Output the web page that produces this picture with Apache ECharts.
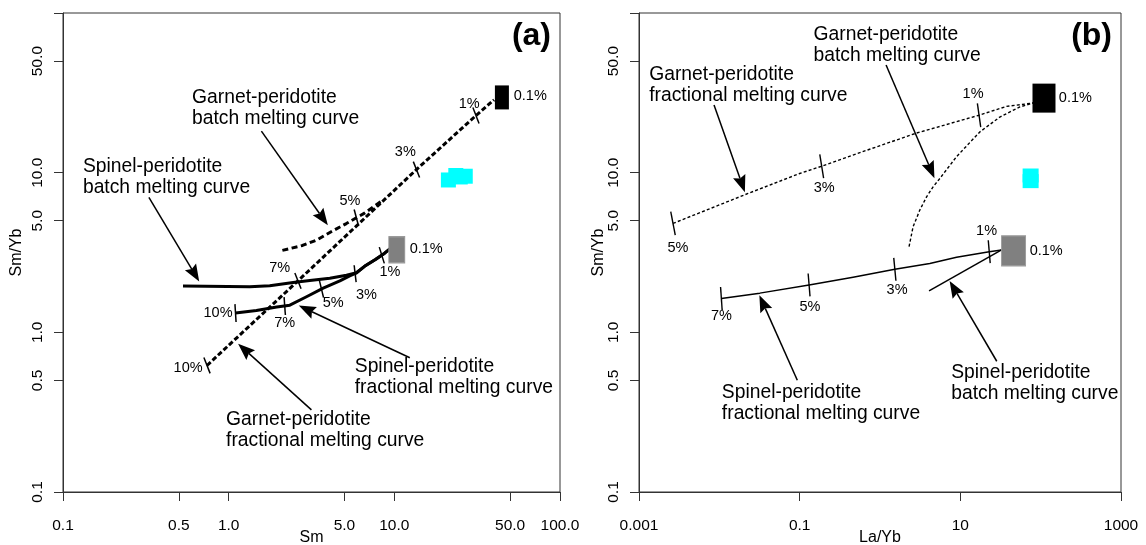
<!DOCTYPE html>
<html>
<head>
<meta charset="utf-8">
<script src="https://cdn.jsdelivr.net/npm/echarts@6/dist/echarts.min.js"></script>
<style>
  html, body { margin: 0; padding: 0; background: #ffffff; }
  #chart { width: 1146px; height: 545px; }
</style>
</head>
<body>
<div id="chart"></div>
<script>
// ---- axis ticks -------------------------------------------------------
const xTicksA = [0.1, 0.5, 1, 5, 10, 50, 100];
const xTickTextA = ['0.1', '0.5', '1.0', '5.0', '10.0', '50.0', '100.0'];
const xTicksB = [0.001, 0.1, 10, 1000];
const xTickTextB = ['0.001', '0.1', '10', '1000'];
const yTicks = [0.1, 0.5, 1, 5, 10, 50, 100];
const yLabelTicks = [0.1, 0.5, 1, 5, 10, 50];
const yTickText = ['0.1', '0.5', '1.0', '5.0', '10.0', '50.0'];

// ---- (a) Sm vs Sm/Yb ---------------------------------------------------
// garnet-peridotite fractional melting
const gfA_x = [0.74, 2.62, 13.6, 31.1, 40.0];
const gfA_y = [0.62, 2.10, 10.46, 22.8, 28.6];
// garnet-peridotite batch melting
const gbA_x = [2.11, 2.79, 3.41, 4.18, 5.13, 5.90, 6.61, 8.51];
const gbA_y = [3.26, 3.50, 3.79, 4.28, 4.80, 5.22, 5.58, 6.73];
// spinel-peridotite batch melting
const sbA_x = [0.53, 1.34, 1.77, 2.45, 3.09, 4.08, 5.14, 5.91, 6.61, 7.69, 8.74, 9.40];
const sbA_y = [1.95, 1.93, 1.96, 2.05, 2.11, 2.18, 2.28, 2.36, 2.59, 2.86, 3.13, 3.33];
// spinel-peridotite fractional melting
const sfA_x = [1.10, 1.47, 1.95, 2.34, 2.95, 3.72, 4.69, 5.38, 5.91, 6.61, 7.69, 8.74, 9.40];
const sfA_y = [1.32, 1.37, 1.44, 1.48, 1.67, 1.89, 2.10, 2.26, 2.36, 2.59, 2.86, 3.13, 3.33];

// melting-degree marks on the curves
const gfA_marks = [[0.74, 0.62], [2.62, 2.10], [13.6, 10.46], [31.1, 22.8]];
const gbA_marks = [[5.90, 5.22]];
const sbA_marks = [[5.80, 2.33], [8.40, 3.04]];
const sfA_marks = [[1.10, 1.32], [2.18, 1.46], [3.63, 1.87]];

// melting-degree labels: [text, x, y]
const pctA = [
  ['10%', 0.569, 0.596], ['7%', 2.035, 2.52], ['5%', 5.39, 6.65], ['3%', 11.65, 13.4], ['1%', 28.3, 27.1],
  ['3%', 6.79, 1.71], ['1%', 9.40, 2.40],
  ['10%', 0.863, 1.316], ['7%', 2.18, 1.14], ['5%', 4.27, 1.52]
];
const srcLabelA = [['0.1%', 52.2, 30.1], ['0.1%', 12.29, 3.31]];
const notesA = [
  ['Garnet-peridotite\nbatch melting curve', 0.597, 25.5],
  ['Spinel-peridotite\nbatch melting curve', 0.131, 9.38],
  ['Spinel-peridotite\nfractional melting curve', 5.73, 0.524],
  ['Garnet-peridotite\nfractional melting curve', 0.958, 0.243]
];
const arrowsA = [
  [[1.576, 18.2], [3.97, 4.68]],
  [[0.330, 7.0], [0.664, 2.08]],
  [[12.4, 0.693], [2.65, 1.47]],
  [[3.16, 0.327], [1.14, 0.849]]
];
// source compositions and samples
const garnetSrcA = [[44.6, 29.6]];
const spinelSrcA = [[10.35, 3.29]];
const samplesA = [[21.2, 9.0], [23.5, 9.6], [26.8, 9.5], [25.0, 9.4]];

// ---- (b) La/Yb vs Sm/Yb ------------------------------------------------
const gfB_x = [0.00265, 0.0228, 0.100, 0.188, 0.679, 2.85, 17.1, 37.6, 80.7];
const gfB_y = [4.81, 7.41, 9.88, 10.98, 13.8, 17.7, 22.9, 26.0, 27.3];
const gbB_x = [2.30, 2.58, 3.13, 3.80, 4.58, 5.56, 8.97, 17.5, 31.0, 55.1, 80.7];
const gbB_y = [3.44, 4.58, 5.83, 7.06, 8.15, 9.20, 12.6, 18.0, 22.3, 25.8, 27.3];
const sfB_x = [0.0106, 0.0319, 0.131, 0.462, 1.53, 4.17, 8.97, 22.9, 32.6];
const sfB_y = [1.63, 1.76, 1.98, 2.21, 2.48, 2.70, 2.95, 3.20, 3.28];
const sbB_x = [4.08, 32.6];
const sbB_y = [1.82, 3.28];

const gfB_marks = [[0.00265, 4.81], [0.188, 10.98], [17.1, 22.9]];
const sfB_marks = [[0.0106, 1.63], [0.131, 1.98], [1.53, 2.48], [22.9, 3.20]];

const pctB = [
  ['5%', 0.00306, 3.36], ['3%', 0.202, 7.96], ['1%', 14.4, 31.3],
  ['7%', 0.0106, 1.27], ['5%', 0.134, 1.44], ['3%', 1.63, 1.84], ['1%', 21.2, 4.33]
];
const srcLabelB = [['0.1%', 166, 29.2], ['0.1%', 71.9, 3.24]];
const notesB = [
  ['Garnet-peridotite\nfractional melting curve', 0.00132, 35.5],
  ['Garnet-peridotite\nbatch melting curve', 0.1466, 62.5],
  ['Spinel-peridotite\nfractional melting curve', 0.0106, 0.362],
  ['Spinel-peridotite\nbatch melting curve', 7.59, 0.478]
];
const arrowsB = [
  [[0.00859, 26.5], [0.0208, 7.55]],
  [[1.19, 47.2], [4.76, 9.24]],
  [[0.0935, 0.501], [0.0315, 1.71]],
  [[28.4, 0.659], [7.36, 2.10]]
];
const garnetSrcB = [[110, 29.3]];
const spinelSrcB = [[46, 3.24]];
const samplesB = [[75, 9.6], [75, 8.85]];

// ---- helpers ----------------------------------------------------------
const FONT = '"Liberation Sans", Arial, Helvetica, sans-serif';
const INK = '#000000';
const AXIS = '#333333';

function zip(xs, ys) { return xs.map((x, i) => [x, ys[i]]); }

function tickText(v, ticks, texts) {
  for (let i = 0; i < ticks.length; i++) {
    if (Math.abs(v - ticks[i]) <= ticks[i] * 1e-6) return texts[i];
  }
  return '';
}

function segDist(p, a, b) {
  const vx = b[0] - a[0], vy = b[1] - a[1];
  const l2 = vx * vx + vy * vy || 1;
  let t = ((p[0] - a[0]) * vx + (p[1] - a[1]) * vy) / l2;
  t = Math.max(0, Math.min(1, t));
  const qx = a[0] + t * vx, qy = a[1] + t * vy;
  return Math.hypot(p[0] - qx, p[1] - qy);
}

function curve(xs, ys, idx, width, dash) {
  return {
    type: 'line', xAxisIndex: idx, yAxisIndex: idx, data: zip(xs, ys),
    symbol: 'none', silent: true, z: 2, animation: false,
    lineStyle: { color: '#000', width: width, type: dash || 'solid', cap: 'butt', join: 'round', opacity: 1 }
  };
}

// short cross-marks on a curve, leaning with the curve's local direction
function marks(points, xs, ys, idx, len, width) {
  return {
    type: 'custom', xAxisIndex: idx, yAxisIndex: idx, z: 4, silent: true,
    data: points,
    renderItem: function (params, api) {
      const p = api.coord([api.value(0), api.value(1)]);
      const pts = xs.map((x, i) => api.coord([x, ys[i]]));
      let best = 0, bd = Infinity;
      for (let i = 0; i < pts.length - 1; i++) {
        const d = segDist(p, pts[i], pts[i + 1]);
        if (d < bd) { bd = d; best = i; }
      }
      const a = pts[best], b = pts[best + 1];
      const phi = Math.atan2(b[1] - a[1], b[0] - a[0]) * 0.5;
      const ux = -Math.sin(phi), uy = Math.cos(phi), h = len / 2;
      return {
        type: 'line',
        shape: { x1: p[0] - ux * h, y1: p[1] - uy * h, x2: p[0] + ux * h, y2: p[1] + uy * h },
        style: { stroke: '#000', lineWidth: width }
      };
    }
  };
}

function arrows(list, idx) {
  return {
    type: 'custom', xAxisIndex: idx, yAxisIndex: idx, z: 6, silent: true,
    data: list.map(a => [a[0][0], a[0][1], a[1][0], a[1][1]]),
    encode: { x: [0, 2], y: [1, 3] },
    renderItem: function (params, api) {
      const p1 = api.coord([api.value(0), api.value(1)]);
      const p2 = api.coord([api.value(2), api.value(3)]);
      const dx = p2[0] - p1[0], dy = p2[1] - p1[1];
      const L = Math.hypot(dx, dy) || 1;
      const ux = dx / L, uy = dy / L, nx = -uy, ny = ux;
      const HL = 17, HW = 6.5, notch = 2.5;
      const bx = p2[0] - ux * HL, by = p2[1] - uy * HL;
      const mx = bx + ux * notch, my = by + uy * notch;
      return {
        type: 'group',
        children: [
          { type: 'line', shape: { x1: p1[0], y1: p1[1], x2: mx, y2: my },
            style: { stroke: '#000', lineWidth: 1.5 } },
          { type: 'polygon',
            shape: { points: [[p2[0], p2[1]], [bx + nx * HW, by + ny * HW], [mx, my], [bx - nx * HW, by - ny * HW]] },
            style: { fill: '#000' } }
        ]
      };
    }
  };
}

function blocks(points, idx, color, size, border) {
  return {
    type: 'scatter', xAxisIndex: idx, yAxisIndex: idx, data: points, z: 5, silent: true,
    symbol: 'rect', symbolSize: size,
    itemStyle: { color: color, opacity: 1, borderColor: border || color, borderWidth: border ? 1 : 0 },
    emphasis: { disabled: true }
  };
}

function texts(list, idx, label) {
  return {
    type: 'scatter', xAxisIndex: idx, yAxisIndex: idx, z: 7, silent: true,
    symbolSize: 1, itemStyle: { color: 'rgba(0,0,0,0)', opacity: 1 },
    emphasis: { disabled: true },
    data: list.map(t => ({ name: t[0], value: [t[1], t[2]] })),
    label: Object.assign({ show: true, formatter: '{b}', color: INK, opacity: 1, fontFamily: FONT }, label),
    labelLayout: { hideOverlap: false }
  };
}

function xAxis(idx, min, max, ticks, tickTexts, name) {
  return {
    type: 'log', logBase: 10, gridIndex: idx, min: min, max: max,
    name: name, nameLocation: 'middle', nameGap: 38, nameMoveOverlap: false,
    nameTextStyle: { fontSize: 16, color: INK, fontFamily: FONT },
    axisLine: { show: true, onZero: false, lineStyle: { color: AXIS, width: 1 } },
    axisTick: { show: true, length: 9, customValues: ticks, lineStyle: { color: AXIS, width: 1 } },
    axisLabel: { show: true, customValues: ticks, margin: 26, fontSize: 15.5, color: INK, fontFamily: FONT,
      formatter: v => tickText(v, ticks, tickTexts) },
    splitLine: { show: false }, minorTick: { show: false }, minorSplitLine: { show: false }
  };
}

function yAxis(idx, gap) {
  return {
    type: 'log', logBase: 10, gridIndex: idx, min: 0.1, max: 100,
    name: 'Sm/Yb', nameLocation: 'middle', nameGap: gap, nameMoveOverlap: false,
    nameTextStyle: { fontSize: 16, color: INK, fontFamily: FONT },
    axisLine: { show: true, onZero: false, lineStyle: { color: AXIS, width: 1 } },
    axisTick: { show: true, length: 9, customValues: yTicks, lineStyle: { color: AXIS, width: 1 } },
    axisLabel: { show: true, customValues: yLabelTicks, rotate: 90, margin: 17, fontSize: 15.5, color: INK,
      fontFamily: FONT, formatter: v => tickText(v, yLabelTicks, yTickText) },
    splitLine: { show: false }, minorTick: { show: false }, minorSplitLine: { show: false }
  };
}

const pctStyle = { position: 'inside', fontSize: 14.5, align: 'center', verticalAlign: 'middle' };
const srcStyle = { position: 'right', distance: 0, fontSize: 14.5, align: 'left', verticalAlign: 'middle' };
const noteStyle = { position: 'right', distance: 0, fontSize: 19.3, lineHeight: 21, align: 'left', verticalAlign: 'middle' };

const chart = echarts.init(document.getElementById('chart'), null, { renderer: 'canvas' });

chart.setOption({
  animation: false,
  backgroundColor: '#ffffff',
  textStyle: { fontFamily: FONT },
  grid: [
    { left: 63, top: 13, width: 497, height: 479, outerBoundsMode: 'none', containLabel: false,
      show: true, borderColor: AXIS, borderWidth: 1, backgroundColor: 'transparent' },
    { left: 639, top: 13, width: 482, height: 479, outerBoundsMode: 'none', containLabel: false,
      show: true, borderColor: AXIS, borderWidth: 1, backgroundColor: 'transparent' }
  ],
  xAxis: [
    xAxis(0, 0.1, 100, xTicksA, xTickTextA, 'Sm'),
    xAxis(1, 0.001, 1000, xTicksB, xTickTextB, 'La/Yb')
  ],
  yAxis: [yAxis(0, 38), yAxis(1, 32)],
  graphic: [
    { type: 'text', right: 595, top: 20, silent: true,
      style: { text: '(a)', font: 'bold 32px ' + FONT, fill: '#000' } },
    { type: 'text', right: 34, top: 20, silent: true,
      style: { text: '(b)', font: 'bold 32px ' + FONT, fill: '#000' } }
  ],
  series: [
    // panel (a)
    curve(gfA_x, gfA_y, 0, 3, [5, 2.5]),
    curve(gbA_x, gbA_y, 0, 3, [6, 3.5]),
    curve(sbA_x, sbA_y, 0, 3),
    curve(sfA_x, sfA_y, 0, 3),
    marks(gfA_marks, gfA_x, gfA_y, 0, 17, 1.5),
    marks(gbA_marks, gbA_x, gbA_y, 0, 17, 1.5),
    marks(sbA_marks, sbA_x, sbA_y, 0, 17, 1.5),
    marks(sfA_marks, sfA_x, sfA_y, 0, 18, 1.5),
    arrows(arrowsA, 0),
    blocks(samplesA, 0, '#00ffff', [15, 15]),
    blocks(garnetSrcA, 0, '#000000', [14, 24]),
    blocks(spinelSrcA, 0, '#808080', [16, 26], '#9a9a9a'),
    texts(pctA, 0, pctStyle),
    texts(srcLabelA, 0, srcStyle),
    texts(notesA, 0, noteStyle),
    // panel (b)
    curve(gfB_x, gfB_y, 1, 1.4, [3, 2.2]),
    curve(gbB_x, gbB_y, 1, 1.4, [3, 2.2]),
    curve(sfB_x, sfB_y, 1, 1.5),
    curve(sbB_x, sbB_y, 1, 1.5),
    marks(gfB_marks, gfB_x, gfB_y, 1, 24, 1.4),
    marks(sfB_marks, sfB_x, sfB_y, 1, 23, 1.4),
    arrows(arrowsB, 1),
    blocks(samplesB, 1, '#00ffff', [16, 14]),
    blocks(garnetSrcB, 1, '#000000', [23, 29]),
    blocks(spinelSrcB, 1, '#808080', [24, 30], '#9a9a9a'),
    texts(pctB, 1, pctStyle),
    texts(srcLabelB, 1, srcStyle),
    texts(notesB, 1, noteStyle)
  ]
});
</script>
</body>
</html>
